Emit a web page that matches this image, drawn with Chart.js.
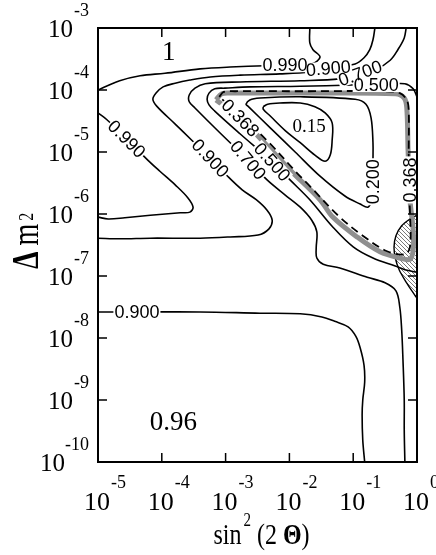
<!DOCTYPE html>
<html>
<head>
<meta charset="utf-8">
<script src="https://cdn.jsdelivr.net/npm/chart.js@4.4.1/dist/chart.umd.min.js"></script>
<style>
  body { margin: 0; background: #fff; }
  #wrap { width: 436px; height: 555px; }
</style>
</head>
<body>
<div id="wrap"><canvas id="myChart" width="436" height="555"></canvas></div>
<script>
'use strict';

// decades shown on the axes (log10)
const xDecades = [-5, -4, -3, -2, -1, 0];
const yDecades = [-10, -9, -8, -7, -6, -5, -4, -3];

// contour lines, each point is [log10 sin^2(2θ), log10 Δm^2]
const c990Top = [[-5.00,-4.00],[-4.87,-3.94],[-4.66,-3.85],[-4.34,-3.77],[-3.95,-3.73],[-3.40,-3.66],[-2.93,-3.63],[-2.38,-3.61],[-2.02,-3.61],[-1.65,-3.58],[-1.52,-3.47],[-1.63,-3.35],[-1.68,-3.24],[-1.68,-3.00]];
const c990Left = [[-5.00,-4.37],[-4.86,-4.48],[-4.55,-4.79],[-4.22,-5.13],[-4.03,-5.31],[-3.79,-5.53],[-3.59,-5.74],[-3.51,-5.89],[-3.56,-5.97],[-3.71,-5.98],[-4.18,-6.02],[-4.58,-6.06],[-4.84,-6.08],[-5.00,-6.05]];
const c900Upper = [[-0.66,-3.00],[-0.69,-3.19],[-0.74,-3.35],[-0.83,-3.48],[-0.97,-3.58],[-1.39,-3.65],[-1.68,-3.71],[-2.15,-3.74],[-2.77,-3.76],[-3.24,-3.79],[-3.56,-3.84],[-3.79,-3.89],[-3.98,-3.95],[-4.09,-4.05],[-4.14,-4.15],[-4.08,-4.26],[-3.79,-4.55],[-3.53,-4.81],[-3.24,-5.10],[-2.96,-5.40],[-2.74,-5.61],[-2.52,-5.77],[-2.35,-5.94],[-2.27,-6.10],[-2.32,-6.24],[-2.49,-6.34],[-2.93,-6.37],[-3.40,-6.39],[-4.18,-6.39],[-4.66,-6.40],[-5.00,-6.39]];
const c900Lower = [[-5.00,-7.58],[-4.39,-7.58],[-3.40,-7.58],[-2.46,-7.60],[-1.83,-7.61],[-1.49,-7.66],[-1.29,-7.73],[-1.08,-7.82],[-0.96,-7.97],[-0.89,-8.16],[-0.83,-8.44],[-0.82,-8.71],[-0.85,-9.00],[-0.86,-9.24],[-0.85,-9.65],[-0.82,-10.00]];
const c700 = [[-0.17,-3.00],[-0.20,-3.16],[-0.30,-3.35],[-0.42,-3.52],[-0.66,-3.68],[-0.89,-3.74],[-1.21,-3.82],[-1.83,-3.85],[-2.77,-3.87],[-3.32,-3.90],[-3.48,-3.97],[-3.57,-4.08],[-3.57,-4.19],[-3.48,-4.29],[-3.09,-4.69],[-2.65,-5.13],[-2.35,-5.45],[-2.07,-5.69],[-1.83,-5.89],[-1.65,-6.10],[-1.57,-6.29],[-1.58,-6.55],[-1.57,-6.71],[-1.47,-6.81],[-1.21,-6.87],[-0.78,-7.02],[-0.50,-7.11],[-0.33,-7.24],[-0.27,-7.50],[-0.24,-7.87],[-0.22,-8.35],[-0.20,-9.00],[-0.20,-9.48],[-0.19,-10.00]];
const c500 = [[0.00,-4.11],[-0.06,-3.98],[-0.19,-3.90],[-0.60,-3.90],[-1.02,-3.92],[-1.83,-3.94],[-2.62,-3.95],[-3.01,-3.97],[-3.17,-3.98],[-3.26,-4.05],[-3.29,-4.15],[-3.26,-4.24],[-3.17,-4.34],[-2.77,-4.71],[-2.27,-5.16],[-1.99,-5.45],[-1.68,-5.77],[-1.32,-6.21],[-1.00,-6.53],[-0.69,-6.71],[-0.34,-6.84],[-0.19,-6.90],[0.00,-6.94]];
const c368 = [[-3.15,-4.16],[-3.06,-4.06],[-2.90,-4.05],[-1.83,-4.05],[-0.34,-4.06],[-0.20,-4.13],[-0.16,-4.29],[-0.14,-4.97],[-0.11,-5.77],[-0.06,-6.26],[-0.06,-6.58],[-0.11,-6.73],[-0.27,-6.71],[-0.58,-6.61],[-0.94,-6.37],[-1.32,-6.05],[-1.52,-5.77],[-1.99,-5.29],[-2.43,-4.81],[-2.77,-4.45],[-3.15,-4.16]];
const limitDashed = [[-3.10,-4.11],[-3.03,-4.03],[-2.85,-4.02],[-1.83,-4.02],[-0.50,-4.02],[-0.27,-4.05],[-0.16,-4.16],[-0.13,-4.32],[-0.13,-4.97],[-0.13,-5.56],[-0.11,-5.98],[-0.11,-6.53],[-0.19,-6.65],[-0.47,-6.60],[-0.85,-6.35],[-1.21,-6.05],[-1.68,-5.55],[-1.88,-5.34],[-2.30,-4.87],[-2.70,-4.47],[-3.10,-4.11]];
const c200 = [[-2.65,-4.26],[-2.30,-4.61],[-1.91,-5.00],[-1.52,-5.39],[-1.13,-5.71],[-0.89,-5.84],[-0.77,-5.89],[-0.71,-5.77],[-0.69,-5.48],[-0.69,-5.13],[-0.69,-4.85],[-0.72,-4.45],[-0.80,-4.23],[-0.97,-4.15],[-1.83,-4.11],[-2.46,-4.13],[-2.62,-4.16],[-2.68,-4.23],[-2.65,-4.26]];
const c150 = [[-2.41,-4.27],[-2.34,-4.23],[-2.15,-4.21],[-1.83,-4.21],[-1.60,-4.27],[-1.44,-4.37],[-1.33,-4.53],[-1.33,-4.81],[-1.36,-5.05],[-1.44,-5.15],[-1.60,-5.05],[-1.83,-4.85],[-2.07,-4.65],[-2.30,-4.42],[-2.41,-4.31],[-2.41,-4.27]];
const hatchRegion = [[0.00,-6.02],[-0.11,-6.08],[-0.24,-6.19],[-0.33,-6.35],[-0.36,-6.53],[-0.34,-6.71],[-0.28,-6.90],[-0.17,-7.10],[-0.08,-7.24],[0.00,-7.34],[0.00,-6.02]];

// contour labels and where they sit
const contourText = ['0.990', '0.900', '0.700', '0.500', '0.990', '0.900', '0.700', '0.500', '0.368', '0.200', '0.368', '0.900'];
const contourTextAt = [[-2.07,-3.60],[-1.39,-3.65],[-0.89,-3.73],[-0.64,-3.92],[-4.55,-4.79],[-3.24,-5.10],[-2.65,-5.13],[-2.27,-5.16],[-2.77,-4.45],[-0.69,-5.48],[-0.11,-5.45],[-4.39,-7.58]];
const regionText = ['1', '0.96', '0.15'];
const regionTextAt = [[-3.89,-3.40],[-3.82,-9.37],[-1.69,-4.60]];

const labelAngles = [0, -5, -20, 0, 45, 47, 50, 48, 45, -90, -90, 0];
const regionFonts = ['27px', '27px', '19px'];

function toPoints(arr) {
  return arr.map(p => ({ x: Math.pow(10, p[0]), y: Math.pow(10, p[1]) }));
}

function makeHatch() {
  const c = document.createElement('canvas');
  c.width = 4;
  c.height = 4;
  const g = c.getContext('2d');
  g.strokeStyle = '#555';
  g.lineWidth = 0.8;
  g.beginPath();
  g.moveTo(-1, -1);
  g.lineTo(5, 5);
  g.stroke();
  return g.createPattern(c, 'repeat');
}

function contour(data) {
  return {
    data: toPoints(data),
    showLine: true,
    borderColor: '#000',
    borderWidth: 1.6,
    pointRadius: 0,
    tension: 0.35,
    fill: false,
    order: 0
  };
}

const serif = '"Liberation Serif", "Times New Roman", serif';

const decorations = {
  id: 'decorations',
  afterDatasetsDraw(chart) {
    const ctx = chart.ctx;
    const xs = chart.scales.x;
    const ys = chart.scales.y;

    ctx.save();
    ctx.font = '18px "Liberation Sans", Arial, sans-serif';
    ctx.textAlign = 'center';
    ctx.textBaseline = 'middle';
    const placed = contourText.map((t, i) => ({
      t: t,
      px: xs.getPixelForValue(Math.pow(10, contourTextAt[i][0])),
      py: ys.getPixelForValue(Math.pow(10, contourTextAt[i][1])),
      a: labelAngles[i] * Math.PI / 180,
      w: ctx.measureText(t).width
    }));
    // white boxes first so overlapping labels stay readable
    placed.forEach(p => {
      ctx.save();
      ctx.translate(p.px, p.py);
      ctx.rotate(p.a);
      ctx.fillStyle = '#fff';
      ctx.fillRect(-p.w / 2 - 1, -7, p.w + 2, 14);
      ctx.restore();
    });
    placed.forEach(p => {
      ctx.save();
      ctx.translate(p.px, p.py);
      ctx.rotate(p.a);
      ctx.fillStyle = '#000';
      ctx.fillText(p.t, 0, 1);
      ctx.restore();
    });

    regionText.forEach((t, i) => {
      ctx.font = regionFonts[i] + ' ' + serif;
      ctx.fillStyle = '#000';
      ctx.fillText(t, xs.getPixelForValue(Math.pow(10, regionTextAt[i][0])), ys.getPixelForValue(Math.pow(10, regionTextAt[i][1])));
    });
    ctx.restore();
  },
  afterDraw(chart) {
    const ctx = chart.ctx;
    const area = chart.chartArea;
    const xs = chart.scales.x;
    const ys = chart.scales.y;

    ctx.save();
    ctx.strokeStyle = '#000';
    ctx.fillStyle = '#000';

    // frame
    ctx.lineWidth = 2;
    ctx.strokeRect(area.left, area.top, area.right - area.left, area.bottom - area.top);

    // inward ticks on all four sides
    ctx.lineWidth = 1.5;
    ctx.beginPath();
    xDecades.slice(1, -1).forEach(e => {
      const px = xs.getPixelForValue(Math.pow(10, e));
      ctx.moveTo(px, area.bottom);
      ctx.lineTo(px, area.bottom - 9);
      ctx.moveTo(px, area.top);
      ctx.lineTo(px, area.top + 9);
    });
    yDecades.slice(1, -1).forEach(e => {
      const py = ys.getPixelForValue(Math.pow(10, e));
      ctx.moveTo(area.left, py);
      ctx.lineTo(area.left + 9, py);
      ctx.moveTo(area.right, py);
      ctx.lineTo(area.right - 9, py);
    });
    ctx.stroke();

    // x tick labels 10^n
    ctx.textBaseline = 'alphabetic';
    xDecades.forEach(e => {
      const px = xs.getPixelForValue(Math.pow(10, e));
      ctx.font = '26px ' + serif;
      ctx.textAlign = 'center';
      const w = ctx.measureText('10').width;
      ctx.fillText('10', px - 1, area.bottom + 48);
      ctx.font = '18px ' + serif;
      ctx.textAlign = 'left';
      ctx.fillText(String(e), px - 1 + w / 2 + 1, area.bottom + 26);
    });

    // y tick labels 10^n
    yDecades.forEach(e => {
      const py = ys.getPixelForValue(Math.pow(10, e));
      ctx.font = '18px ' + serif;
      ctx.textAlign = 'right';
      const sw = ctx.measureText(String(e)).width;
      ctx.fillText(String(e), area.left - 9, py - 12);
      ctx.font = '25px ' + serif;
      ctx.fillText('10', Math.min(area.left - 25, area.left - 9 - sw), py + 9);
    });

    // x title: sin²(2Θ)
    ctx.save();
    ctx.textAlign = 'left';
    const parts = [
      { t: 'sin', f: '24px ' + serif, dy: 0, gap: 2 },
      { t: '2', f: '15px ' + serif, dy: -15, gap: 6 },
      { t: '(2 ', f: '24px ' + serif, dy: 0, gap: 0 },
      { t: 'Θ', f: 'bold 24px ' + serif, dy: 0, gap: 0 },
      { t: ')', f: '24px ' + serif, dy: 0, gap: 0 }
    ];
    let total = 0;
    parts.forEach(p => { ctx.font = p.f; p.w = ctx.measureText(p.t).width; total += p.w + p.gap; });
    let cx = (area.left + area.right) / 2 + 4 - total / 2;
    ctx.translate(0, 544);
    ctx.scale(1, 1.2);
    parts.forEach(p => {
      ctx.font = p.f;
      ctx.fillText(p.t, cx, p.dy);
      cx += p.w + p.gap;
    });
    ctx.restore();

    // y title: Δm²
    ctx.save();
    ctx.translate(38, 269);
    ctx.rotate(-Math.PI / 2);
    ctx.scale(1, 1.35);
    ctx.textAlign = 'left';
    ctx.font = 'bold 28px ' + serif;
    ctx.fillText('Δ', 0, 0);
    const dw = ctx.measureText('Δ').width;
    ctx.font = '28px ' + serif;
    ctx.fillText('m', dw + 6, 0);
    const mw = ctx.measureText('m').width;
    ctx.font = '16px ' + serif;
    ctx.fillText('2', dw + 6 + mw + 3, -4);
    ctx.restore();

    ctx.restore();
  }
};

const hatchSet = {
  data: toPoints(hatchRegion),
  showLine: true,
  borderColor: '#000',
  borderWidth: 1.4,
  backgroundColor: makeHatch(),
  pointRadius: 0,
  tension: 0.3,
  fill: 'shape',
  order: 3
};

const graySet = {
  data: toPoints(c368),
  showLine: true,
  borderColor: '#8f8f8f',
  borderWidth: 5,
  pointRadius: 0,
  tension: 0.35,
  fill: false,
  order: 2
};

const dashedSet = {
  data: toPoints(limitDashed),
  showLine: true,
  borderColor: '#000',
  borderWidth: 1.8,
  borderDash: [8, 5],
  pointRadius: 0,
  tension: 0.35,
  fill: false,
  order: 1
};

let canvasElem = document.getElementById('myChart').getContext('2d');

new Chart(canvasElem, {
  type: 'scatter',
  data: {
    datasets: [
      contour(c990Top), contour(c990Left), contour(c900Upper), contour(c900Lower),
      contour(c700), contour(c500), contour(c200), contour(c150),
      dashedSet, graySet, hatchSet
    ]
  },
  options: {
    responsive: false,
    animation: false,
    devicePixelRatio: 1,
    layout: { padding: { left: 98, right: 19, top: 28, bottom: 93 } },
    plugins: {
      legend: { display: false },
      tooltip: { enabled: false }
    },
    scales: {
      x: { type: 'logarithmic', min: 1e-5, max: 1, display: false },
      y: { type: 'logarithmic', min: 1e-10, max: 1e-3, display: false }
    }
  },
  plugins: [decorations]
});
</script>
</body>
</html>
